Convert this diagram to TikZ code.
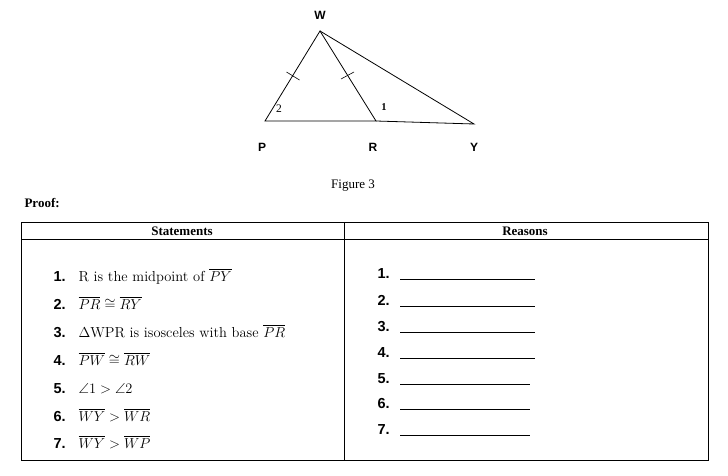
\documentclass[tikz,border=0pt]{standalone}
\usepackage{amssymb}
\usepackage{fontspec}
\usetikzlibrary{calc}
\newfontfamily\arialf{Liberation Sans}
\newfontfamily\timesf{Liberation Serif}
\begin{document}
\begin{tikzpicture}[x=1pt,y=-1pt,
  lbl/.style={font=\arialf\bfseries\fontsize{12}{14}\selectfont},
  num/.style={font=\arialf\bfseries\fontsize{14.5}{16}\selectfont, anchor=base west},
  stm/.style={font=\fontsize{14.5}{16}\selectfont, anchor=base west},
  hdr/.style={font=\timesf\bfseries\fontsize{13}{15}\selectfont},
  seg/.style={line width=0.8pt}]
\useasboundingbox (0,0) rectangle (728,476);
% triangle
\coordinate (W) at (320,31);
\coordinate (P) at (265,121);
\coordinate (R) at (376,121);
\coordinate (Y) at (474,124);
\draw[seg] (P) -- (W) -- (R) -- cycle;
\draw[seg] (W) -- (Y) -- (R);
\draw[line width=0.6pt] ($(P)!0.5!(W)+(-6,-4)$) -- ++(13,8);
\draw[line width=0.6pt] ($(R)!0.5!(W)+(-7,3)$) -- ++(13,-7);
\node[lbl] (lw) at (320,15) {W};
\node[lbl] (lp) at (262,147) {P};
\node[lbl] (lr) at (373,147) {R};
\node[lbl] (ly) at (474,147) {Y};
\node[font=\timesf\fontsize{11.5}{12}\selectfont] (a2) at (279,109) {2};
\node[font=\timesf\bfseries\fontsize{10.5}{12}\selectfont] (a1) at (384,107) {1};
\node[font=\timesf\fontsize{13}{15}\selectfont] (fig) at (353,186) {Figure 3};
\node[hdr, anchor=west] (proof) at (21,203) {Proof:};
% table
\draw[line width=0.8pt] (21,222) rectangle (708,460);
\draw[line width=0.8pt] (21,239) -- (708,239);
\draw[line width=0.8pt] (344,222) -- (344,460);
\node[hdr] (hs) at (182,231) {Statements};
\node[hdr] (hr) at (525,231) {Reasons};
\foreach \y/\n/\t in {281/1/{R is the midpoint of $\overline{PY}$},
  309/2/{$\overline{PR}\cong\overline{RY}$},
  337/3/{$\Delta$WPR is isosceles with base $\overline{PR}$},
  365/4/{$\overline{PW}\cong\overline{RW}$},
  393/5/{$\angle 1>\angle 2$},
  421/6/{$\overline{WY}>\overline{WR}$},
  448/7/{$\overline{WY}>\overline{WP}$}}{
  \node[num] (sn\n) at (50,\y) {\n.};
  \node[stm] (st\n) at (75,\y) {\t};
}
\foreach \y/\n/\e in {278/1/535,305/2/535,331/3/535,357/4/535,383/5/530,408/6/530,434/7/530}{
  \node[num] (rn\n) at (374,\y) {\n.};
  \draw[line width=0.6pt] (400,\y+1) -- (\e,\y+1);
}
\end{tikzpicture}
\end{document}
